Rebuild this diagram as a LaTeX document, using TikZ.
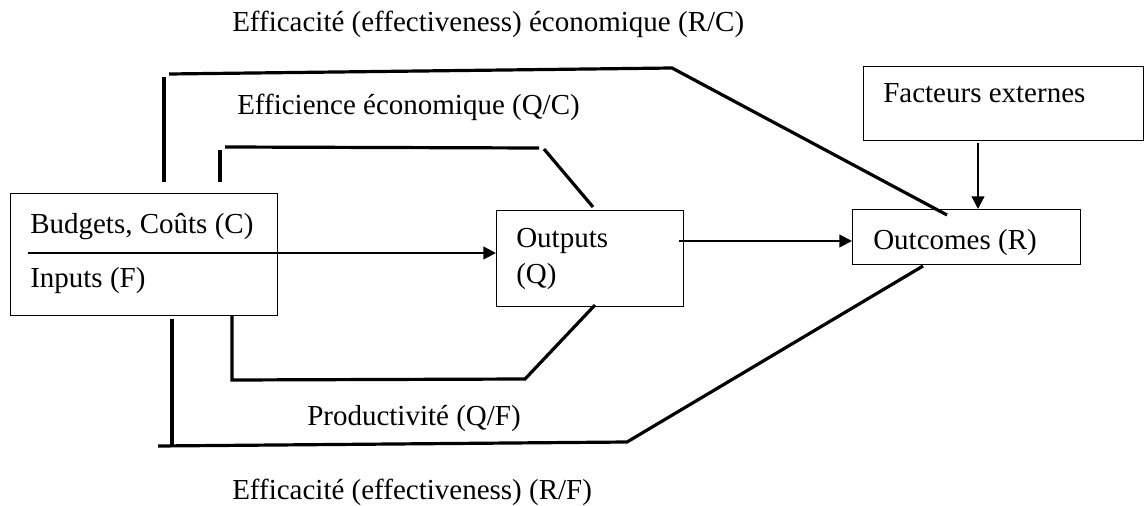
\documentclass[tikz,border=0pt]{standalone}
\usepackage{fontspec}
\setmainfont{Liberation Serif}
\usetikzlibrary{arrows.meta}

\tikzset{
  box/.style={draw, line width=0.75pt, inner sep=0pt, anchor=north west},
  lbl/.style={anchor=base west, inner sep=0pt, font=\fontsize{21.75}{26}\selectfont},
  link/.style={line width=2.4pt},
  flow/.style={line width=1.6pt, -{Triangle[length=9.5pt,width=9.5pt]}}
}

\begin{document}
\begin{tikzpicture}[x=0.75pt, y=-0.75pt]
  \useasboundingbox (0,0) rectangle (1144,506);
  % boxes
  \node[box, minimum width=200.25pt, minimum height=91.5pt] (inputs) at (10,193) {};
  \node[box, minimum width=140.25pt, minimum height=72pt] (outputs) at (496,210) {};
  \node[box, minimum width=171pt, minimum height=41.25pt] (outcomes) at (852,209) {};
  \node[box, minimum width=210pt, minimum height=55.5pt] (externes) at (863,66) {};
  % texts
  \node[lbl] (budgets) at (30,233) {Budgets, Coûts (C)};
  \node[lbl] (inp) at (30,287) {Inputs (F)};
  \node[lbl] (outp) at (516,247) {Outputs};
  \node[lbl] (outq) at (516,283) {(Q)};
  \node[lbl] (outc) at (873,249) {Outcomes (R)};
  \node[lbl] (ext) at (883,103) {Facteurs externes};
  \node[lbl] (effRC) at (232,32) {Efficacité (effectiveness) économique (R/C)};
  \node[lbl] (effQC) at (237,115) {Efficience économique (Q/C)};
  \node[lbl] (prodQF) at (307,425) {Productivité (Q/F)};
  \node[lbl] (effRF) at (232,499) {Efficacité (effectiveness) (R/F)};
  % bends
  \coordinate (rc0) at (164,182); \coordinate (rc1) at (164,77);
  \coordinate (rc2) at (169,74);  \coordinate (rc3) at (672,68);
  \coordinate (rc4) at (947,215);
  \coordinate (qc0) at (220,182); \coordinate (qc1) at (220,150);
  \coordinate (qc2) at (225,147); \coordinate (qc3) at (539,148);
  \coordinate (qc4) at (544,149); \coordinate (qc5) at (593,207);
  \coordinate (qf0) at (232,316); \coordinate (qf1) at (232,380);
  \coordinate (qf2) at (525,379); \coordinate (qf3) at (595,305);
  \coordinate (rf0) at (172,319); \coordinate (rf1) at (172,445);
  \coordinate (rf2) at (158,446); \coordinate (rf3) at (627,442);
  \coordinate (rf4) at (923,266);
  \coordinate (div) at (28,253);
  \coordinate (q) at (679,241);
  \coordinate (ex) at (978,143);
  % ratios
  \draw[link] (rc0) -- (rc1);
  \draw[link] (rc2) -- (rc3) -- (rc4);
  \draw[link] (qc0) -- (qc1);
  \draw[link] (qc2) -- (qc3);
  \draw[link] (qc4) -- (qc5);
  \draw[link] (qf0) -- (qf1) -- (qf2) -- (qf3);
  \draw[link] (rf0) -- (rf1);
  \draw[link] (rf2) -- (rf3) -- (rf4);
  % flows
  \draw[flow] (div) -- (div -| outputs.west);
  \draw[flow] (q) -- (q -| outcomes.west);
  \draw[flow] (ex) -- (ex |- outcomes.north);
\end{tikzpicture}
\end{document}
